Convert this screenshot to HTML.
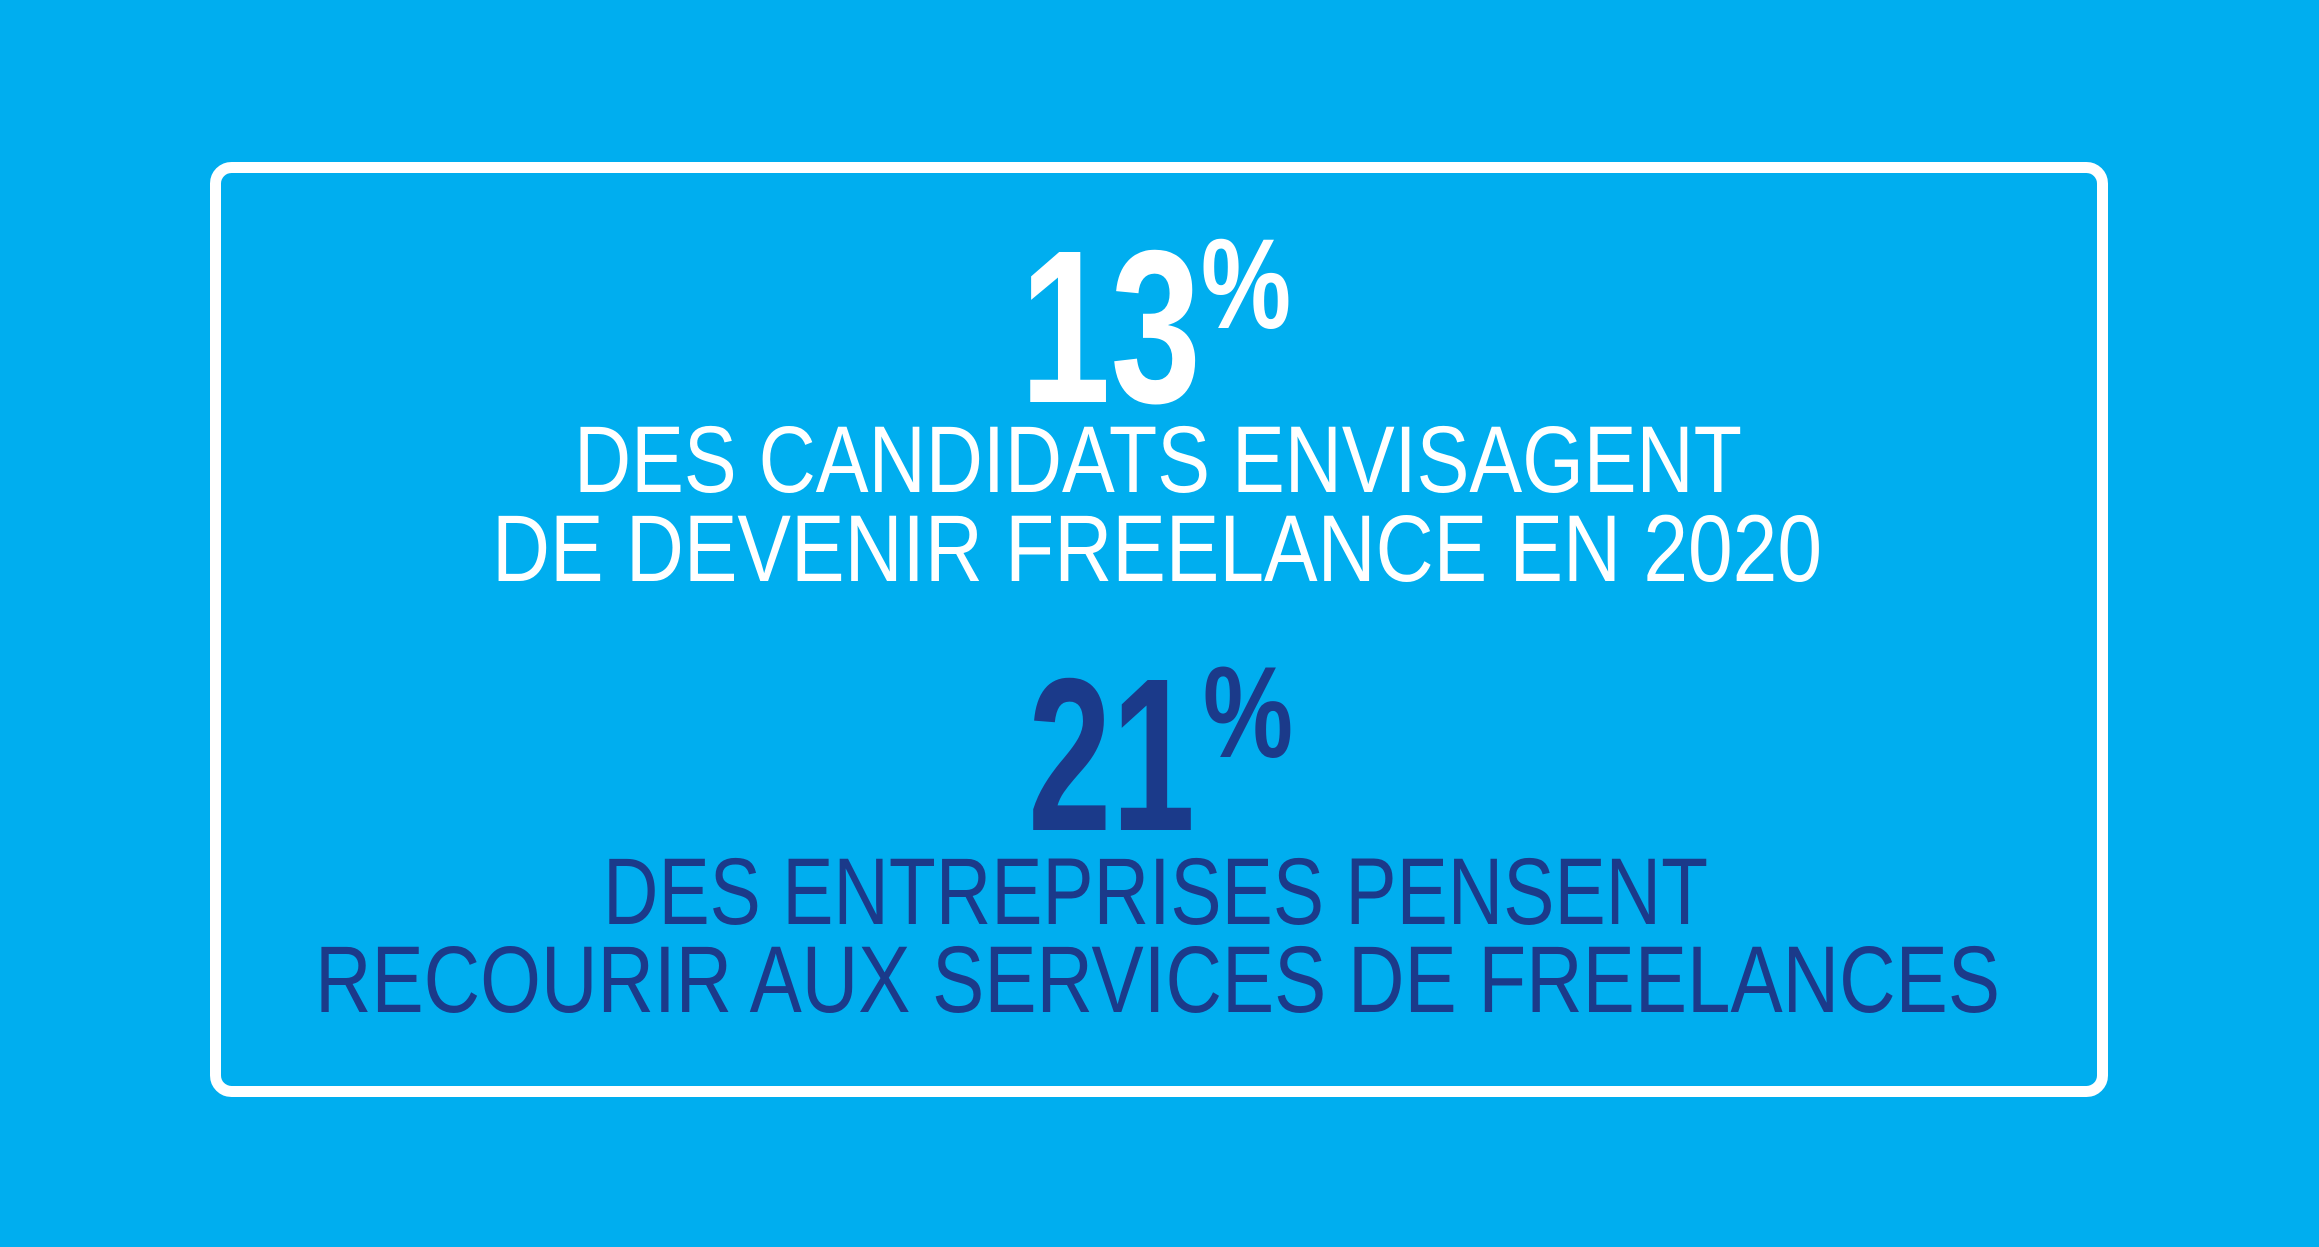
<!DOCTYPE html>
<html><head><meta charset="utf-8"><style>
html,body{margin:0;padding:0;background:#00aeef;}
svg{display:block}
text{font-family:"Liberation Sans",sans-serif;}
</style></head><body>
<svg width="2319" height="1247" viewBox="0 0 2319 1247">
<rect x="0" y="0" width="2319" height="1247" fill="#00aeef"/>
<rect x="215.5" y="167.5" width="1887" height="924" rx="16" fill="none" stroke="#ffffff" stroke-width="11"/>
<g>
<text x="1020" y="402" font-size="218" font-weight="bold" fill="#fff" textLength="181" lengthAdjust="spacingAndGlyphs">13</text>
<text x="1201" y="328" font-size="128" font-weight="bold" fill="#fff" textLength="90" lengthAdjust="spacingAndGlyphs">%</text>
<text x="574" y="492" font-size="95" fill="#fff" textLength="1168" lengthAdjust="spacingAndGlyphs">DES CANDIDATS ENVISAGENT</text>
<text x="492" y="581" font-size="95" fill="#fff" textLength="1330" lengthAdjust="spacingAndGlyphs">DE DEVENIR FREELANCE EN 2020</text>
</g>
<g>
<text x="1028" y="830" font-size="218" font-weight="bold" fill="#1b3a8a" textLength="167" lengthAdjust="spacingAndGlyphs">21</text>
<text x="1203" y="757" font-size="130" font-weight="bold" fill="#1b3a8a" textLength="90" lengthAdjust="spacingAndGlyphs">%</text>
<text x="603" y="924" font-size="95" fill="#1b3a8a" textLength="1105" lengthAdjust="spacingAndGlyphs">DES ENTREPRISES PENSENT</text>
<text x="315" y="1012" font-size="95" fill="#1b3a8a" textLength="1685" lengthAdjust="spacingAndGlyphs">RECOURIR AUX SERVICES DE FREELANCES</text>
</g>
</svg>
</body></html>
